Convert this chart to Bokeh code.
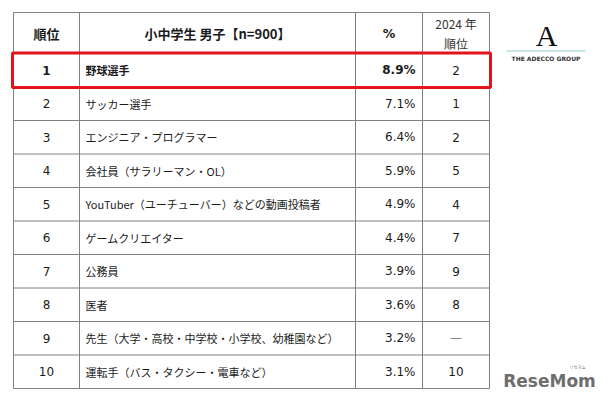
from bokeh.plotting import figure
from bokeh.models import Range1d, ColumnDataSource
from bokeh.core.properties import value
from bokeh.embed import file_html
from bokeh.resources import INLINE

# ---- data ----
ranks = ["1", "2", "3", "4", "5", "6", "7", "8", "9", "10"]
jobs = [
    "野球選手",
    "サッカー選手",
    "エンジニア・プログラマー",
    "会社員（サラリーマン・OL）",
    "YouTuber（ユーチューバー）などの動画投稿者",
    "ゲームクリエイター",
    "公務員",
    "医者",
    "先生（大学・高校・中学校・小学校、幼稚園など）",
    "運転手（バス・タクシー・電車など）",
]
pcts = [8.9, 7.1, 6.4, 5.9, 4.9, 4.4, 3.9, 3.6, 3.2, 3.1]
prev_ranks = ["2", "1", "2", "5", "4", "7", "9", "8", "—", "10"]
headers = ["順位", "小中学生 男子【n=900】", "%"]
header_prev = ["2024 年", "順位"]

# ---- layout ----
FONT = value("Noto Sans CJK JP")
NUMFONT = value("DejaVu Sans")
col_x = [13, 79, 355, 422, 489]
top = 12
head_h = 41
row_h = 33.5
n = len(ranks)
table_bottom = top + head_h + n * row_h
line_col = "#808080"
txt_col = "#1a1a1a"

p = figure(width=602, height=392, x_range=Range1d(0, 602), y_range=Range1d(392, 0),
           output_backend="svg", toolbar_location=None, min_border=0)
p.axis.visible = False
p.grid.visible = False
p.outline_line_color = None
p.background_fill_color = "white"
p.border_fill_color = "white"

# grid lines
hy = [top, top + head_h] + [top + head_h + (i + 1) * row_h for i in range(n)]
p.segment(x0=[col_x[0]] * len(hy), x1=[col_x[-1]] * len(hy), y0=hy, y1=hy,
          line_color=line_col, line_width=1)
p.segment(x0=col_x, x1=col_x, y0=[top] * len(col_x), y1=[table_bottom] * len(col_x),
          line_color=line_col, line_width=1)

# header texts
hc = [(col_x[i] + col_x[i + 1]) / 2 for i in range(4)]
hy_mid = top + head_h / 2
p.text(x=hc[:2], y=[hy_mid] * 2, text=headers[:2], text_font=FONT, text_font_size="13px",
       text_font_style="bold", text_align="center", text_baseline="middle", text_color=txt_col)
p.text(x=[hc[2]], y=[hy_mid], text=headers[2:], text_font=NUMFONT, text_font_size="12.5px",
       text_font_style="bold", text_align="center", text_baseline="middle", text_color=txt_col)
p.text(x=[hc[3], hc[3]], y=[top + 11, top + 31], text=header_prev, text_font=FONT,
       text_font_size="12px", text_align="center", text_baseline="middle", text_color="#333333")

# rows
ys = [top + head_h + (i + 0.5) * row_h for i in range(n)]
styles = ["bold"] + ["normal"] * (n - 1)
src = ColumnDataSource(dict(
    y=ys, rank=ranks, job=jobs, pct=[f"{v:.1f}%" for v in pcts], prev=prev_ranks,
    style=styles,
    xr=[hc[0]] * n, xj=[col_x[1] + 6] * n, xp=[col_x[3] - 7] * n, xv=[hc[3]] * n,
    prevcol=[txt_col if r != "—" else "#888888" for r in prev_ranks],
))
p.text(x="xr", y="y", text="rank", source=src, text_font=NUMFONT, text_font_size="12px",
       text_font_style="style", text_align="center", text_baseline="middle", text_color=txt_col)
p.text(x="xj", y="y", text="job", source=src, text_font=FONT, text_font_size="11px",
       text_font_style="style", text_align="left", text_baseline="middle", text_color=txt_col)
p.text(x="xp", y="y", text="pct", source=src, text_font=NUMFONT, text_font_size="12px",
       text_font_style="style", text_align="right", text_baseline="middle", text_color=txt_col)
p.text(x="xv", y="y", text="prev", source=src, text_font=NUMFONT, text_font_size="12px",
       text_align="center", text_baseline="middle", text_color="prevcol")

# highlight box around first row
p.rect(x=[(col_x[0] + col_x[-1]) / 2], y=[ys[0]], width=[col_x[-1] - col_x[0] + 2],
       height=[row_h + 1], fill_color=None, line_color="#e3131b", line_width=3)

# Adecco logo
p.text(x=[546], y=[35], text=["A"], text_font=value("Liberation Serif"), text_font_size="30px",
       text_align="center", text_baseline="middle", text_color="#111111")
p.segment(x0=[506], x1=[585], y0=[50.5], y1=[50.5], line_color="#8fd1c8", line_width=1)
p.text(x=[545.5], y=[57.5], text=["THE ADECCO GROUP"], text_font=value("DejaVu Sans"),
       text_font_size="6px", text_font_style="bold", text_align="center",
       text_baseline="middle", text_color="#333333")

# ReseMom watermark
p.text(x=[549], y=[380], text=["ReseMom"], text_font=value("DejaVu Sans"), text_font_size="17px",
       text_font_style="bold", text_align="center", text_baseline="middle", text_color="#6e6e6e")
p.text(x=[577], y=[366], text=["リセマム"], text_font=FONT, text_font_size="4px",
       text_align="center", text_baseline="middle", text_color="#6e6e6e")

open("out.html", "w").write(file_html(p, INLINE))
